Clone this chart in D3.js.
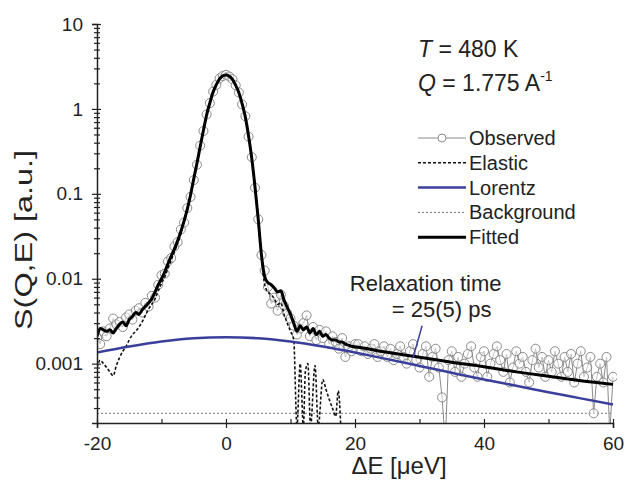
<!DOCTYPE html>
<html>
<head>
<meta charset="UTF-8">
<title>S(Q,E) fit</title>
<script src="https://d3js.org/d3.v7.min.js"></script>
<style>
  body { margin: 0; background: #fff; }
  text { font-family: Arial, "Liberation Sans", sans-serif; fill: #222; }
</style>
</head>
<body>
<script>
// observed spectrum (0.5 ueV steps)
var obsE = [-20,-19.5,-19,-18.5,-18,-17.5,-17,-16.5,-16,-15.5,-15,-14.5,-14,-13.5,-13,-12.5,-12,-11.5,-11,-10.5,
  -10,-9.5,-9,-8.5,-8,-7.5,-7,-6.5,-6,-5.5,-5,-4.5,-4,-3.5,-3,-2.5,-2,-1.5,-1,-0.5,
  0,0.5,1,1.5,2,2.5,3,3.5,4,4.5,5,5.5,6,6.5,7,7.5,8,8.5,9,9.5,
  10,10.5,11,11.5,12,12.5,13,13.5,14,14.5,15,15.5,16,16.5,17,17.5,18,18.5,19,19.5,
  20,20.5,21,21.5,22,22.5,23,23.5,24,24.5,25,25.5,26,26.5,27,27.5,28,28.5,29,29.5,
  30,30.5,31,31.5,32,32.5,33,33.5,34,34.5,35,35.5,36,36.5,37,37.5,38,38.5,39,39.5,
  40,40.5,41,41.5,42,42.5,43,43.5,44,44.5,45,45.5,46,46.5,47,47.5,48,48.5,49,49.5,
  50,50.5,51,51.5,52,52.5,53,53.5,54,54.5,55,55.5,56,56.5,57,57.5,58,58.5,59,59.5,60];
var obsS = [0.0020,0.0017,0.0024,0.0021,0.0026,0.0034,0.0029,0.0031,0.0027,0.0035,0.0038,0.0033,0.0042,0.0045,0.0040,0.0052,0.0047,0.0063,0.0060,0.0085,
  0.0110,0.0115,0.016,0.0175,0.024,0.027,0.038,0.046,0.068,0.092,0.145,0.22,0.37,0.55,0.86,1.17,1.60,1.92,2.28,2.44,
  2.52,2.41,2.24,1.90,1.56,1.13,0.82,0.47,0.27,0.118,0.050,0.019,0.0125,0.0080,0.0051,0.0060,0.0042,0.0065,0.0048,0.0039,
  0.0034,0.0028,0.0022,0.0026,0.0030,0.0037,0.0021,0.0027,0.0019,0.0025,0.0020,0.0024,0.0017,0.0021,0.0018,0.0015,0.0020,0.0012,0.0016,0.0014,
  0.0017,0.0017,0.0014,0.0016,0.0013,0.0015,0.0017,0.0012,0.0014,0.0016,0.0012,0.0015,0.0011,0.0013,0.0016,0.0012,0.0010,0.0014,0.0017,0.0011,
  0.0009,0.0013,0.0016,0.0007,0.0012,0.0015,0.0009,0.0004,0.00012,0.0011,0.0014,0.0008,0.0012,0.0007,0.0010,0.0013,0.0016,0.0009,0.0007,0.0012,
  0.0014,0.0007,0.0010,0.0013,0.0016,0.0011,0.0008,0.0013,0.0006,0.0009,0.0014,0.0010,0.0012,0.0008,0.0006,0.0011,0.0015,0.0009,0.0012,0.0007,
  0.0011,0.0008,0.0014,0.0010,0.0007,0.0012,0.0008,0.0013,0.0006,0.0010,0.0014,0.0007,0.0009,0.0012,0.00026,0.0007,0.0010,0.0006,0.0012,0.00015,0.0007];

// fitted curve
var fitE = [-20,-19.5,-19,-18.5,-18,-17.5,-17,-16.5,-16,-15.5,-15,-14.5,-14,-13.5,-13,-12.5,-12,-11.5,-11,-10.5,
  -10,-9.5,-9,-8.5,-8,-7.5,-7,-6.5,-6,-5.5,-5,-4.5,-4,-3.5,-3,-2.5,-2,-1.5,-1,-0.5,
  0,0.5,1,1.5,2,2.5,3,3.5,4,4.5,5,5.5,6,6.5,7,7.5,8,8.5,9,9.5,
  10,10.5,11,11.5,12,12.5,13,13.5,14,14.5,15,15.5,16,16.5,17,17.5,18,18.5,19,19.5,
  20,25,30,35,40,45,50,55,60];
var fitS = [0.0021,0.0026,0.0025,0.0024,0.0025,0.0023,0.0026,0.0029,0.0031,0.0028,0.0033,0.0036,0.0040,0.0038,0.0043,0.0047,0.0052,0.0058,0.0070,0.0085,
  0.0100,0.0120,0.0150,0.0185,0.0225,0.028,0.036,0.048,0.066,0.097,0.15,0.23,0.36,0.56,0.85,1.18,1.58,1.93,2.26,2.45,
  2.50,2.43,2.23,1.90,1.55,1.15,0.80,0.48,0.26,0.12,0.050,0.019,0.0105,0.0090,0.0085,0.0078,0.0070,0.0072,0.0056,0.0046,
  0.0038,0.0030,0.0024,0.0028,0.0025,0.0027,0.0023,0.0026,0.0022,0.0024,0.0021,0.0022,0.0020,0.0019,0.0019,0.0018,0.0018,0.0017,0.00165,0.0016,
  0.00158,0.00136,0.00119,0.00104,0.00092,0.00080,0.00071,0.00063,0.00057];

// elastic (resolution) component
var elaE = [-20,-19.5,-19,-18.5,-18,-17.5,-17,-16.5,-16,-15.5,-15,-14.5,-14,-13.5,-13,-12.5,-12,-11.5,-11,-10.5,
  -10,-9.5,-9,-8.5,-8,-7.5,-7,-6.5,-6,-5.5,-5,-4.5,-4,-3.5,-3,-2.5,-2,-1.5,-1,-0.5,
  0,0.5,1,1.5,2,2.5,3,3.5,4,4.5,5,5.5,6,6.5,7,7.5,8,8.5,9,9.5,10,10.5,
  11,11.5,12,12.3,12.7,13.1,13.8,14.3,15,15.5,16,16.5,17,17.4,17.8];
var elaS = [0.0009,0.0011,0.0010,0.0009,0.0008,0.00072,0.00095,0.00118,0.0014,0.0016,0.0019,0.0022,0.0024,0.0027,0.0031,0.0037,0.0044,0.0050,0.0058,0.0072,
  0.0088,0.0105,0.0132,0.0165,0.0205,0.026,0.034,0.046,0.064,0.095,0.15,0.23,0.36,0.56,0.85,1.18,1.58,1.93,2.26,2.45,
  2.50,2.43,2.23,1.90,1.55,1.15,0.80,0.48,0.26,0.12,0.049,0.018,0.0085,0.0070,0.0065,0.0058,0.0050,0.0052,0.0038,0.0030,0.0024,0.0019,
  0.00018,0.00100,0.00018,0.00080,0.00100,0.00018,0.00095,0.00018,0.00065,0.00050,0.00038,0.00030,0.00024,0.00048,0.00018];

// Lorentzian quasi-elastic component
var lorE = [-20,-15,-10,-5,0,5,10,15,20,25,30,35,40,45,50,55,60];
var lorS = [0.00135,0.00159,0.00182,0.00199,0.00205,0.00199,0.00182,0.00159,0.00135,0.00113,0.00094,0.00078,0.00065,0.00055,0.00046,0.00039,0.00033];

var background = 0.00026;

var xMajor = [-20,0,20,40,60];
var xLabels = ["-20","0","20","40","60"];
var xMinor = [-10,10,30,50];
var yMajor = [0.001,0.01,0.1,1,10];
var yLabels = ["0.001","0.01","0.1","1","10"];
var legendLabels = ["Observed","Elastic","Lorentz","Background","Fitted"];

var W = 627, H = 481;
var blue = "#3b3f9c";

var svg = d3.select("body").append("svg")
  .attr("width", W).attr("height", H);

var x = d3.scaleLinear().domain([-20, 60]).range([97, 613]);
var y = d3.scaleLog().domain([2e-4, 10]).range([423, 24]);

svg.append("defs").append("clipPath").attr("id", "plot")
  .append("rect").attr("x", 97).attr("y", 0).attr("width", 520).attr("height", 423);

var plot = svg.append("g").attr("clip-path", "url(#plot)");

function pairs(E, S) { return E.map(function(e, i) { return [e, S[i]]; }); }
var line = d3.line().x(function(d) { return x(d[0]); }).y(function(d) { return y(Math.max(d[1], 1e-5)); });
var smooth = d3.line().curve(d3.curveMonotoneX)
  .x(function(d) { return x(d[0]); }).y(function(d) { return y(Math.max(d[1], 1e-5)); });

// background
plot.append("path")
  .attr("d", line([[-20, background], [60, background]]))
  .attr("fill", "none").attr("stroke", "#777").attr("stroke-width", 1).attr("stroke-dasharray", "2,2");

// observed
var obs = pairs(obsE, obsS);
plot.append("path").attr("d", line(obs))
  .attr("fill", "none").attr("stroke", "#8a8a8a").attr("stroke-width", 1);
plot.selectAll("circle.obs").data(obs.filter(function(d) { return d[1] >= 2e-4; }))
  .enter().append("circle").attr("class", "obs")
  .attr("cx", function(d) { return x(d[0]); })
  .attr("cy", function(d) { return y(d[1]); })
  .attr("r", 4.5).attr("fill", "#fff").attr("fill-opacity", 0.5)
  .attr("stroke", "#8a8a8a").attr("stroke-width", 1);

// elastic
plot.append("path").attr("d", smooth(pairs(elaE, elaS)))
  .attr("fill", "none").attr("stroke", "#111").attr("stroke-width", 1.6).attr("stroke-dasharray", "3,2");

// lorentz
plot.append("path").attr("d", smooth(pairs(lorE, lorS)))
  .attr("fill", "none").attr("stroke", blue).attr("stroke-width", 2.5);

// fitted
plot.append("path").attr("d", smooth(pairs(fitE, fitS)))
  .attr("fill", "none").attr("stroke", "#000").attr("stroke-width", 3).attr("stroke-linejoin", "round");

// axes
var gx = svg.append("g").attr("transform", "translate(0,423)")
  .call(d3.axisBottom(x).tickValues(xMajor).tickSize(5).tickPadding(9)
    .tickFormat(function(d, i) { return xLabels[i]; }));
gx.selectAll(".tick line").attr("y1", -4);
svg.append("g").attr("transform", "translate(0,423)")
  .call(d3.axisBottom(x).tickValues(xMinor).tickSize(-4).tickFormat(""))
  .select(".domain").remove();

var gy = svg.append("g").attr("transform", "translate(97,0)")
  .call(d3.axisLeft(y).tickValues(yMajor).tickSize(5).tickPadding(9)
    .tickFormat(function(d, i) { return yLabels[i]; }));
gy.selectAll(".tick line").attr("x1", 4);
var yMinor = y.ticks().filter(function(v) { return yMajor.indexOf(v) < 0 && v > 2e-4; });
var gm = svg.append("g").attr("transform", "translate(97,0)")
  .call(d3.axisLeft(y).tickValues(yMinor).tickSize(3).tickFormat(""));
gm.select(".domain").remove();
gm.selectAll(".tick line").attr("x1", 3);

svg.selectAll(".domain").attr("stroke", "#222").attr("stroke-width", 1.5);
svg.selectAll(".tick line").attr("stroke", "#222").attr("stroke-width", 1.2);
svg.selectAll(".tick text").attr("font-size", 19).attr("fill", "#222")
  .attr("font-family", "Arial, 'Liberation Sans', sans-serif");

// axis titles
svg.append("text").attr("x", 399).attr("y", 474).attr("text-anchor", "middle")
  .attr("font-size", 24).text("\u0394E [\u03BCeV]");
svg.append("text").attr("transform", "translate(32,240) rotate(-90) scale(1.35,1)").attr("text-anchor", "middle")
  .attr("font-size", 24).text("S(Q,E) [a.u.]");

// T and Q
var tq = svg.append("text").attr("x", 418).attr("y", 57).attr("font-size", 23);
tq.append("tspan").attr("font-style", "italic").text("T");
tq.append("tspan").text(" = 480 K");
var qq = svg.append("text").attr("x", 418).attr("y", 91).attr("font-size", 23);
qq.append("tspan").attr("font-style", "italic").text("Q");
qq.append("tspan").text(" = 1.775 A");
qq.append("tspan").attr("font-size", 14).attr("dy", -10).text("-1");

// legend
var lg = svg.append("g").attr("transform", "translate(418,138)");
legendLabels.forEach(function(lab, i) {
  var row = lg.append("g").attr("transform", "translate(0," + (i * 24.8) + ")");
  var ln = row.append("line").attr("x1", 0).attr("x2", 48).attr("y1", 0).attr("y2", 0).attr("fill", "none");
  if (i === 0) {
    ln.attr("stroke", "#8a8a8a").attr("stroke-width", 1);
    row.append("circle").attr("cx", 24).attr("cy", 0).attr("r", 4).attr("fill", "#fff").attr("stroke", "#8a8a8a");
  } else if (i === 1) {
    ln.attr("stroke", "#111").attr("stroke-width", 1.6).attr("stroke-dasharray", "3,2");
  } else if (i === 2) {
    ln.attr("stroke", blue).attr("stroke-width", 2.5);
  } else if (i === 3) {
    ln.attr("stroke", "#777").attr("stroke-width", 1).attr("stroke-dasharray", "2,2");
  } else {
    ln.attr("stroke", "#000").attr("stroke-width", 3);
  }
  row.append("text").attr("x", 51).attr("y", 7).attr("font-size", 20)
    .attr("fill", i === 2 ? blue : "#222").text(lab);
});

// relaxation time annotation
svg.append("text").attr("x", x(19.2)).attr("y", y(0.00725)).attr("font-size", 22).attr("fill", blue)
  .text("Relaxation time");
svg.append("text").attr("x", x(25.7)).attr("y", y(0.00350)).attr("font-size", 22).attr("fill", blue)
  .text("= 25(5) ps");
svg.append("line")
  .attr("x1", x(30.4)).attr("y1", y(0.0028))
  .attr("x2", x(29.0)).attr("y2", y(0.00117))
  .attr("stroke", blue).attr("stroke-width", 1.5);
</script>
</body>
</html>
